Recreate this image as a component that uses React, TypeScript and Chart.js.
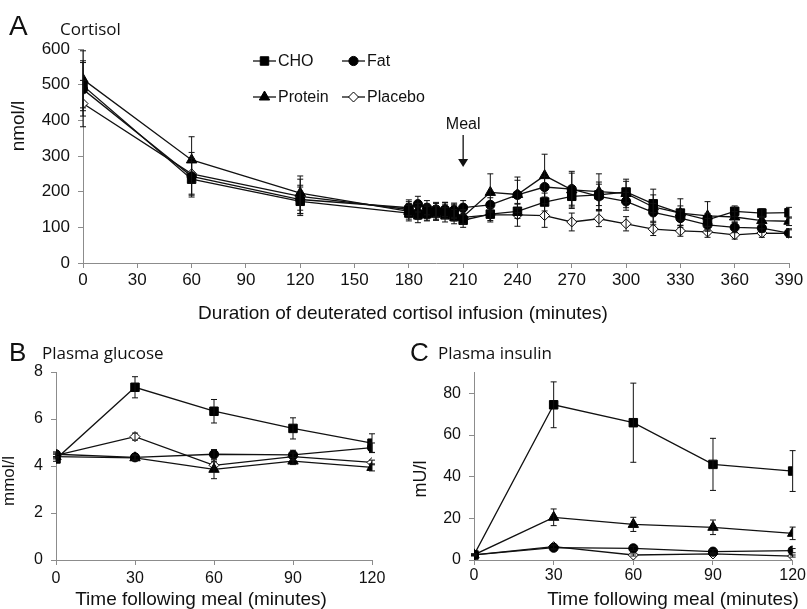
import React, { useEffect, useRef } from 'react';
import { Chart, registerables } from 'chart.js';

Chart.register(...registerables);

// ---------- Panel A: Cortisol ----------
const timeA = [0, 60, 120, 180, 185, 190, 195, 200, 205, 210, 225, 240, 255, 270, 285, 300, 315, 330, 345, 360, 375, 390];
const choA = [497, 235, 173, 140, 135, 138, 140, 135, 130, 120, 137, 145, 171, 187, 191, 199, 166, 140, 121, 145, 140, 141];
const fatA = [487, 243, 178, 155, 165, 155, 150, 150, 148, 155, 163, 191, 213, 207, 187, 173, 142, 126, 107, 100, 98, 84];
const proteinA = [515, 289, 196, 145, 145, 140, 145, 145, 140, 130, 198, 192, 245, 205, 200, 195, 157, 140, 132, 129, 119, 117];
const placeboA = [447, 250, 187, 150, 145, 145, 140, 150, 145, 128, 135, 135, 133, 115, 124, 110, 95, 90, 87, 79, 84, 83];
const choErrA = [70, 50, 40, 22, 22, 20, 20, 20, 20, 20, 18, 20, 25, 30, 30, 30, 25, 20, 18, 15, 12, 15];
const fatErrA = [75, 50, 40, 22, 22, 20, 20, 20, 20, 20, 20, 50, 30, 45, 40, 25, 25, 20, 18, 15, 12, 12];
const proteinErrA = [80, 65, 48, 22, 22, 20, 22, 20, 22, 20, 52, 40, 60, 52, 50, 40, 50, 40, 40, 15, 12, 12];
const placeboErrA = [65, 60, 48, 22, 22, 20, 20, 20, 20, 20, 20, 32, 33, 25, 22, 20, 18, 15, 15, 12, 12, 10];
const mealTime = 210;

// ---------- Panels B & C ----------
const timeBC = [0, 30, 60, 90, 120];
const choB = [4.3, 7.35, 6.33, 5.6, 4.97];
const fatB = [4.5, 4.37, 4.5, 4.47, 4.78];
const proteinB = [4.4, 4.35, 3.86, 4.21, 3.94];
const placeboB = [4.45, 5.25, 4.03, 4.4, 4.15];
const choErrB = [0.1, 0.45, 0.5, 0.45, 0.4];
const fatErrB = [0.1, 0.12, 0.2, 0.2, 0.2];
const proteinErrB = [0.1, 0.1, 0.4, 0.15, 0.15];
const placeboErrB = [0.1, 0.15, 0.15, 0.15, 0.1];

const choC = [2.4, 74.5, 65.9, 45.9, 42.7];
const fatC = [2.5, 5.9, 5.6, 4.0, 4.5];
const proteinC = [2.5, 20.5, 17.1, 15.7, 12.8];
const placeboC = [2.5, 6.4, 2.4, 2.9, 1.9];
const choErrC = [0.5, 11, 19, 12.5, 9.8];
const fatErrC = [0.3, 1, 1, 1, 1];
const proteinErrC = [0.3, 4, 3.4, 3.5, 3];
const placeboErrC = [0.3, 1, 0.5, 0.5, 0.5];

const seriesLabels = ['CHO', 'Fat', 'Protein', 'Placebo'];
const seriesStyles = ['rect', 'circle', 'triangle', 'rectRot'];

const FONT = '"Liberation Sans", Arial, sans-serif';
const TITLE_FONT = '"Open Sans", sans-serif';
const INK = '#111';
const AXIS = '#8c8c8c';

const radii: Record<string, number> = { rect: 6, circle: 4.6, triangle: 6, rectRot: 5 };

function makeDatasets(times: number[], values: number[][], errors: number[][]) {
  return values.map((vals, si) => {
    const style = seriesStyles[si];
    return {
      label: seriesLabels[si],
      data: times.map((t, i) => ({ x: t, y: vals[i] })),
      errors: errors[si],
      borderColor: INK,
      borderWidth: 1.3,
      pointStyle: style,
      pointRadius: radii[style],
      pointBackgroundColor: style === 'rectRot' ? '#fff' : '#000',
      pointBorderColor: '#000',
      pointBorderWidth: 1,
      tension: 0,
      fill: false,
    };
  });
}

const errorBars = {
  id: 'errorBars',
  afterDatasetsDraw(chart: any) {
    const ctx = chart.ctx;
    const ys = chart.scales.y;
    ctx.save();
    ctx.strokeStyle = INK;
    ctx.lineWidth = 1;
    chart.data.datasets.forEach((ds: any, di: number) => {
      const errs = ds.errors;
      if (!errs) return;
      const meta = chart.getDatasetMeta(di);
      meta.data.forEach((pt: any, i: number) => {
        const v = ds.data[i].y;
        const e = errs[i];
        const top = ys.getPixelForValue(v + e);
        const bot = ys.getPixelForValue(Math.max(v - e, ys.min));
        const x = pt.x;
        ctx.beginPath();
        ctx.moveTo(x, top);
        ctx.lineTo(x, bot);
        ctx.moveTo(x - 3, top);
        ctx.lineTo(x + 3, top);
        ctx.moveTo(x - 3, bot);
        ctx.lineTo(x + 3, bot);
        ctx.stroke();
      });
    });
    ctx.restore();
  },
};

function drawMarker(ctx: CanvasRenderingContext2D, style: string, x: number, y: number) {
  const r = radii[style];
  ctx.beginPath();
  if (style === 'rect') {
    const s = r * Math.SQRT1_2;
    ctx.rect(x - s, y - s, 2 * s, 2 * s);
  } else if (style === 'circle') {
    ctx.arc(x, y, r, 0, Math.PI * 2);
  } else if (style === 'triangle') {
    ctx.moveTo(x, y - r);
    ctx.lineTo(x + r * 0.866, y + r * 0.5);
    ctx.lineTo(x - r * 0.866, y + r * 0.5);
    ctx.closePath();
  } else {
    ctx.moveTo(x, y - r);
    ctx.lineTo(x + r, y);
    ctx.lineTo(x, y + r);
    ctx.lineTo(x - r, y);
    ctx.closePath();
  }
  ctx.fillStyle = style === 'rectRot' ? '#fff' : '#000';
  ctx.fill();
  ctx.strokeStyle = '#000';
  ctx.lineWidth = 1;
  ctx.stroke();
}

type TextItem = { text: string; x: number; y: number; font: string; align?: CanvasTextAlign; rotate?: boolean };

function textPlugin(items: TextItem[]) {
  return {
    id: 'texts',
    afterDraw(chart: any) {
      const ctx = chart.ctx;
      ctx.save();
      ctx.fillStyle = INK;
      items.forEach((it) => {
        ctx.save();
        ctx.font = it.font;
        ctx.textAlign = it.align || 'left';
        ctx.textBaseline = it.rotate ? 'middle' : 'alphabetic';
        ctx.translate(it.x, it.y);
        if (it.rotate) ctx.rotate(-Math.PI / 2);
        ctx.fillText(it.text, 0, 0);
        ctx.restore();
      });
      ctx.restore();
    },
  };
}

const legendPlugin = {
  id: 'customLegend',
  afterDraw(chart: any) {
    const ctx = chart.ctx;
    const cols = [253, 342];
    const rows = [61, 97];
    ctx.save();
    seriesLabels.forEach((label, k) => {
      const x0 = cols[k % 2];
      const y = rows[Math.floor(k / 2)];
      ctx.strokeStyle = INK;
      ctx.lineWidth = 1.3;
      ctx.beginPath();
      ctx.moveTo(x0, y);
      ctx.lineTo(x0 + 23, y);
      ctx.stroke();
      drawMarker(ctx, seriesStyles[k], x0 + 11.5, y);
      ctx.fillStyle = INK;
      ctx.font = `16px ${FONT}`;
      ctx.textAlign = 'left';
      ctx.textBaseline = 'middle';
      ctx.fillText(label, x0 + 25, y + 1);
    });
    ctx.restore();
  },
};

const mealPlugin = {
  id: 'meal',
  afterDraw(chart: any) {
    const ctx = chart.ctx;
    const x = chart.scales.x.getPixelForValue(mealTime);
    ctx.save();
    ctx.fillStyle = INK;
    ctx.strokeStyle = INK;
    ctx.font = `16px ${FONT}`;
    ctx.textAlign = 'center';
    ctx.textBaseline = 'alphabetic';
    ctx.fillText('Meal', x, 129);
    ctx.lineWidth = 1.3;
    ctx.beginPath();
    ctx.moveTo(x, 135);
    ctx.lineTo(x, 160);
    ctx.stroke();
    ctx.beginPath();
    ctx.moveTo(x - 5, 159);
    ctx.lineTo(x + 5, 159);
    ctx.lineTo(x, 167);
    ctx.closePath();
    ctx.fill();
    ctx.restore();
  },
};

function axisX(max: number, step: number, tickSize: number, tickPad: number, height: number) {
  return {
    type: 'linear',
    min: 0,
    max,
    ticks: { stepSize: step, font: { family: FONT, size: tickSize }, color: INK, padding: tickPad, maxRotation: 0, autoSkip: false },
    grid: { drawOnChartArea: false, drawTicks: true, tickLength: 5, color: AXIS },
    border: { color: AXIS, width: 1 },
    afterFit(scale: any) {
      scale.height = height;
    },
  };
}

function axisY(max: number, step: number, tickSize: number, width: number) {
  return {
    type: 'linear',
    min: 0,
    max,
    ticks: { stepSize: step, includeBounds: false, font: { family: FONT, size: tickSize }, color: INK, padding: 8 },
    grid: { drawOnChartArea: false, drawTicks: true, tickLength: 5, color: AXIS },
    border: { color: AXIS, width: 1 },
    afterFit(scale: any) {
      scale.width = width;
    },
  };
}

function baseOptions(padding: any, x: any, y: any) {
  return {
    responsive: false,
    animation: false,
    devicePixelRatio: 1,
    layout: { padding },
    plugins: { legend: { display: false }, tooltip: { enabled: false } },
    scales: { x, y },
  };
}

export default function App() {
  const refA = useRef<HTMLCanvasElement>(null);
  const refB = useRef<HTMLCanvasElement>(null);
  const refC = useRef<HTMLCanvasElement>(null);

  useEffect(() => {
    const charts: Chart[] = [];

    charts.push(
      new Chart(refA.current as HTMLCanvasElement, {
        type: 'line',
        data: {
          datasets: makeDatasets(timeA, [choA, fatA, proteinA, placeboA], [choErrA, fatErrA, proteinErrA, placeboErrA]) as any,
        },
        options: baseOptions({ left: 0, top: 49, right: 18, bottom: 0 }, axisX(390, 30, 17, 2, 67), axisY(600, 100, 17, 83)) as any,
        plugins: [
          errorBars,
          legendPlugin,
          mealPlugin,
          textPlugin([
            { text: 'A', x: 9, y: 35, font: `28px ${FONT}` },
            { text: 'Cortisol', x: 60, y: 35, font: `17px ${TITLE_FONT}` },
            { text: 'nmol/l', x: 19, y: 126, font: `19px ${FONT}`, align: 'center', rotate: true },
            { text: 'Duration of deuterated cortisol infusion (minutes)', x: 403, y: 319, font: `19px ${FONT}`, align: 'center' },
          ]),
        ],
      })
    );

    charts.push(
      new Chart(refB.current as HTMLCanvasElement, {
        type: 'line',
        data: {
          datasets: makeDatasets(timeBC, [choB, fatB, proteinB, placeboB], [choErrB, fatErrB, proteinErrB, placeboErrB]) as any,
        },
        options: baseOptions({ left: 0, top: 42, right: 28, bottom: 0 }, axisX(120, 30, 16, 4, 49), axisY(8, 2, 16, 56)) as any,
        plugins: [
          errorBars,
          textPlugin([
            { text: 'B', x: 9, y: 31, font: `26px ${FONT}` },
            { text: 'Plasma glucose', x: 42, y: 29, font: `17px ${TITLE_FONT}` },
            { text: 'mmol/l', x: 9, y: 151, font: `17px ${FONT}`, align: 'center', rotate: true },
            { text: 'Time following meal (minutes)', x: 201, y: 275, font: `19px ${FONT}`, align: 'center' },
          ]),
        ],
      })
    );

    charts.push(
      new Chart(refC.current as HTMLCanvasElement, {
        type: 'line',
        data: {
          datasets: makeDatasets(timeBC, [choC, fatC, proteinC, placeboC], [choErrC, fatErrC, proteinErrC, placeboErrC]) as any,
        },
        options: baseOptions({ left: 0, top: 42.5, right: 14, bottom: 0 }, axisX(120, 30, 16, 1, 49), axisY(90, 20, 16, 74)) as any,
        plugins: [
          errorBars,
          textPlugin([
            { text: 'C', x: 10, y: 31, font: `26px ${FONT}` },
            { text: 'Plasma insulin', x: 38, y: 29, font: `17px ${TITLE_FONT}` },
            { text: 'mU/l', x: 21, y: 149, font: `18px ${FONT}`, align: 'center', rotate: true },
            { text: 'Time following meal (minutes)', x: 273, y: 275, font: `19px ${FONT}`, align: 'center' },
          ]),
        ],
      })
    );

    return () => charts.forEach((c) => c.destroy());
  }, []);

  const wrap: React.CSSProperties = { position: 'absolute', left: 0, top: 0, width: 807, height: 609, background: '#fff', overflow: 'hidden' };
  return (
    <div style={wrap}>
      <canvas ref={refA} width={807} height={330} style={{ position: 'absolute', left: 0, top: 0 }} />
      <canvas ref={refB} width={400} height={279} style={{ position: 'absolute', left: 0, top: 330 }} />
      <canvas ref={refC} width={407} height={279} style={{ position: 'absolute', left: 400, top: 330 }} />
    </div>
  );
}
